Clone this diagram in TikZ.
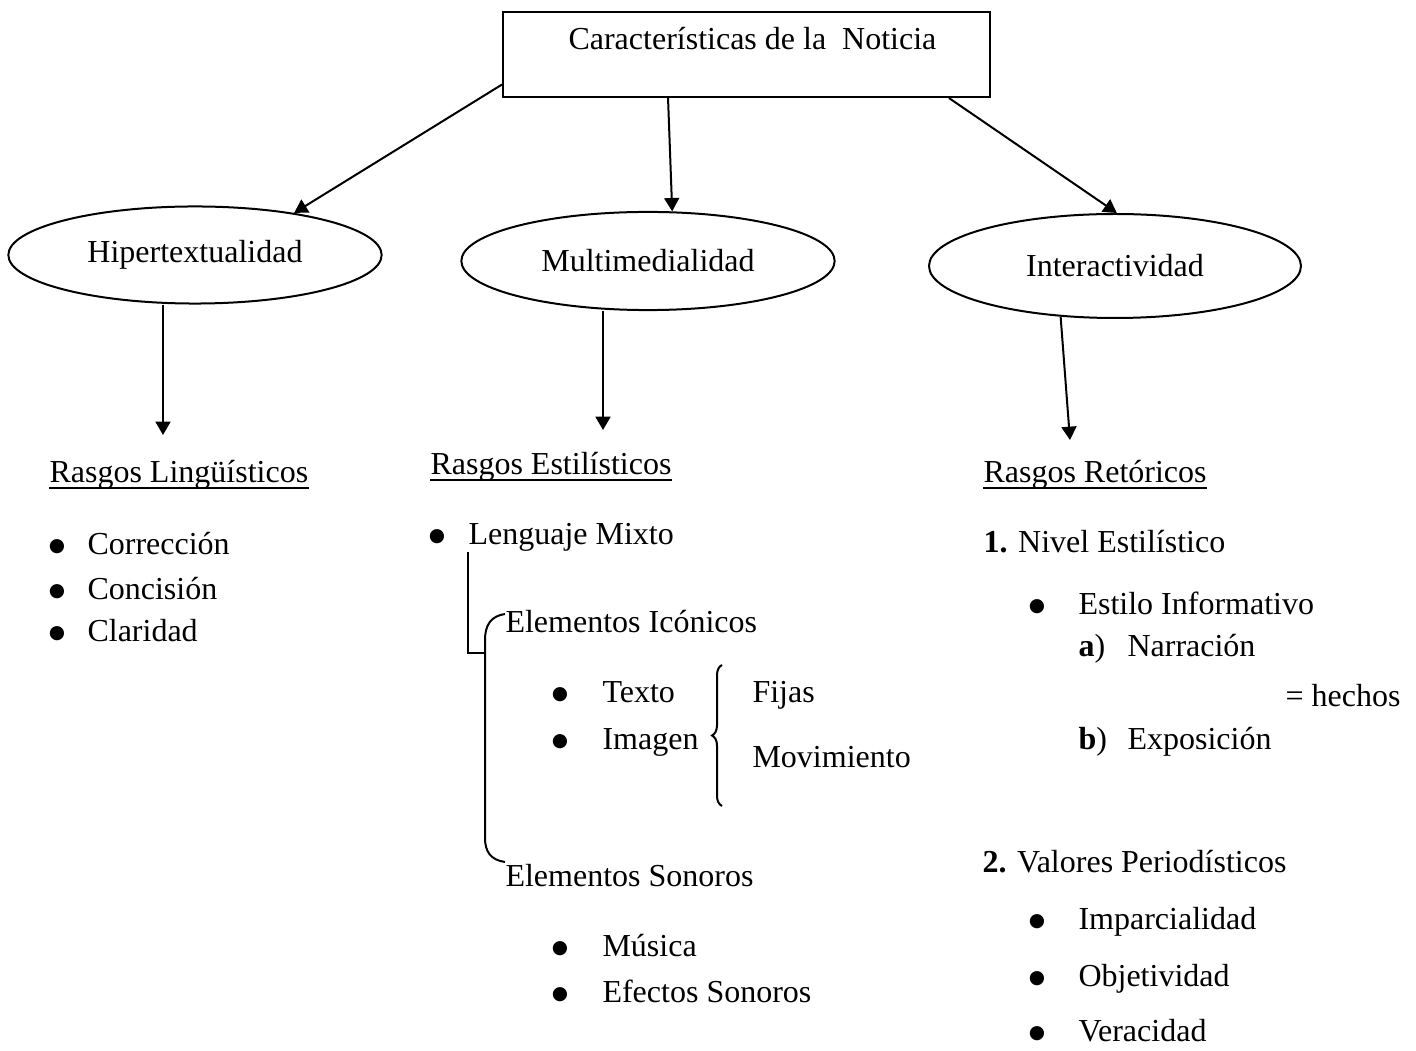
\documentclass[tikz,border=0pt]{standalone}
\usepackage{fontspec}
\setmainfont{Liberation Serif}
\newfontfamily\symfont{DejaVu Sans}
\usetikzlibrary{shapes.geometric,arrows.meta,decorations.pathreplacing,calc}
\tikzset{
  txt/.style={anchor=base west,inner sep=0pt,font=\fontsize{12}{14}\selectfont},
  bul/.style={anchor=base,inner sep=0pt,font=\symfont\fontsize{7}{7}\selectfont},
  oval/.style={ellipse,draw,line width=0.75pt,inner sep=0pt,font=\fontsize{12}{14}\selectfont},
  arr/.style={line width=0.75pt,-{Triangle[length=5pt,width=5.6pt]}},
  uline/.style={line width=0.9pt},
}
\begin{document}
\begin{tikzpicture}[x=0.375pt,y=0.375pt,yscale=-1,xscale=1]
\useasboundingbox (0,0) rectangle (1416,1051);

%Shape: Rectangle
\node [draw,line width=0.75pt,inner sep=0pt,minimum width=182.6pt,minimum height=31.9pt] (box) at (746.5,54.5) {};
% Text Node
\node [txt] (ttl) at (568,50) {Características de la\ \ Noticia};

%Shape: Ellipse
\node [oval,minimum width=140pt,minimum height=36.4pt] (hip) at (195,255) {Hipertextualidad};
%Shape: Ellipse
\node [oval,minimum width=140pt,minimum height=36.8pt] (multi) at (648,261) {Multimedialidad};
%Shape: Ellipse
\node [oval,minimum width=139.5pt,minimum height=39pt] (inter) at (1115,266) {Interactividad};

%Straight Lines
\draw [arr] (box.187) -- (hip.23);
%Straight Lines
\draw [arr] ($(box.south west)+(166,0)$) -- (multi.64);
%Straight Lines
\draw [arr] ($(box.south east)+(-42,0)$) -- (inter.88);

\coordinate (t1) at (163,435);
\coordinate (t2) at (603,430);
\coordinate (t3) at (1070,440);
%Straight Lines
\draw [arr] (hip.south -| t1) -- (t1);
%Straight Lines
\draw [arr] (multi.south -| t2) -- (t2);
%Straight Lines
\draw [arr] (inter.223) -- (t3);

% Text Node
\node [txt] (ling) at (49,483) {Rasgos Lingüísticos};
\draw [uline] ($(ling.base west)+(0,5)$) -- ($(ling.base east)+(0,5)$);
\node [bul] (b1) at (57,552) {●};
\node [txt] (corr) at (87,555) {Corrección};
\node [bul] (b2) at (57,597) {●};
\node [txt] (conc) at (87,600) {Concisión};
\node [bul] (b3) at (57,639) {●};
\node [txt] (clar) at (87,642) {Claridad};

% Text Node
\node [txt] (esti) at (430,475) {Rasgos Estilísticos};
\draw [uline] ($(esti.base west)+(0,5)$) -- ($(esti.base east)+(0,5)$);
\node [bul] (b4) at (437,542) {●};
\node [txt] (leng) at (468,545) {Lenguaje Mixto};
\node [txt] (icon) at (505,633) {Elementos Icónicos};
\node [bul] (b5) at (560,700) {●};
\node [txt] (texto) at (602,703) {Texto};
\node [bul] (b6) at (560,747) {●};
\node [txt] (imag) at (602,750) {Imagen};
\node [txt] (fijas) at (752,703) {Fijas};
\node [txt] (movi) at (752,768) {Movimiento};
\node [txt] (sono) at (505,887) {Elementos Sonoros};
\node [bul] (b7) at (560,954) {●};
\node [txt] (musi) at (602,957) {Música};
\node [bul] (b8) at (560,1000) {●};
\node [txt] (efec) at (602,1003) {Efectos Sonoros};

%Straight Lines
\draw [line width=0.75pt] (468,552) -- (468,653) -- (485,653);
%Curve Lines
\draw [line width=0.75pt] (505,614) .. controls (491,616) and (485,625) .. (485,640) -- (485,838) .. controls (485,852) and (491,860) .. (505,862);
%Shape: Brace
\draw [line width=0.75pt,decorate,decoration={brace,amplitude=3.75pt}] (722,806) -- (722,665);

% Text Node
\node [txt] (reto) at (983,483) {Rasgos Retóricos};
\draw [uline] ($(reto.base west)+(0,5)$) -- ($(reto.base east)+(0,5)$);
\node [txt] (nivel) at (983,553) {\textbf{1.} Nivel Estilístico};
\node [bul] (b9) at (1037,612) {●};
\node [txt] (infor) at (1078,615) {Estilo Informativo};
\node [txt] (la) at (1078,657) {\textbf{a})};
\node [txt] (narr) at (1127,657) {Narración};
\node [txt] (hech) at (1285,707) {= hechos};
\node [txt] (lb) at (1078,750) {\textbf{b})};
\node [txt] (expo) at (1127,750) {Exposición};
\node [txt] (valo) at (982,873) {\textbf{2.} Valores Periodísticos};
\node [bul] (b10) at (1037,927) {●};
\node [txt] (impa) at (1078,930) {Imparcialidad};
\node [bul] (b11) at (1037,984) {●};
\node [txt] (obje) at (1078,987) {Objetividad};
\node [bul] (b12) at (1037,1039) {●};
\node [txt] (vera) at (1078,1042) {Veracidad};

\end{tikzpicture}
\end{document}
